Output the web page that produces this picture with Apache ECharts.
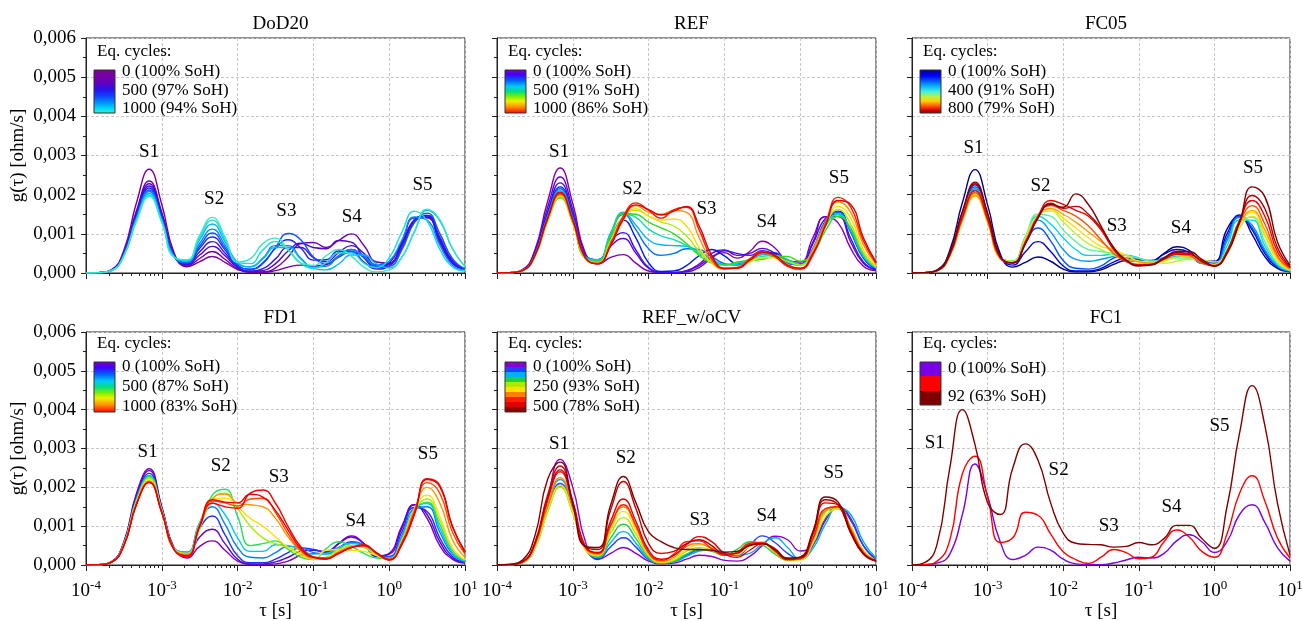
<!DOCTYPE html>
<html><head><meta charset="utf-8">
<script src="https://cdn.jsdelivr.net/npm/echarts@6/dist/echarts.min.js"></script>
<style>html,body{margin:0;padding:0;background:#fff}#c{width:1302px;height:621px}</style>
</head><body><div id="c"></div>
<script>
// relaxation time grid tau [s]
const tau = [1e-4,1.468e-4,2.154e-4,3.162e-4,4.642e-4,6.813e-4,1e-3,1.468e-3,2.154e-3,3.162e-3,4.642e-3,6.813e-3,0.01,0.01468,0.02154,0.03162,0.04642,0.06813,0.1,0.1468,0.2154,0.3162,0.4642,0.6813,1,1.468,2.154,3.162,4.642,6.813,10];
// g(tau) in 1e-3 ohm/s
const dod20 = [
[0,0.01,0.08,0.58,1.8,2.65,1.75,0.49,0.16,0.29,0.42,0.27,0.09,0.02,0.02,0.06,0.15,0.2,0.18,0.21,0.44,0.6,0.43,0.18,0.23,0.71,1.32,1.43,0.84,0.27,0.1],
[0,0.01,0.07,0.52,1.6,2.35,1.55,0.44,0.18,0.37,0.55,0.35,0.11,0.03,0.03,0.13,0.41,0.75,0.78,0.65,0.83,1.0,0.7,0.28,0.25,0.73,1.36,1.47,0.87,0.28,0.1],
[0,0.01,0.07,0.5,1.55,2.28,1.5,0.43,0.21,0.46,0.68,0.44,0.14,0.04,0.06,0.24,0.56,0.76,0.65,0.62,0.83,0.79,0.39,0.13,0.25,0.78,1.41,1.41,0.78,0.24,0.1],
[0,0.01,0.07,0.49,1.51,2.22,1.47,0.42,0.23,0.54,0.8,0.51,0.16,0.05,0.11,0.36,0.65,0.65,0.39,0.29,0.52,0.7,0.5,0.21,0.24,0.73,1.36,1.47,0.87,0.28,0.1],
[0,0.01,0.07,0.48,1.48,2.17,1.43,0.42,0.25,0.63,0.92,0.59,0.19,0.1,0.26,0.63,0.85,0.64,0.33,0.34,0.56,0.55,0.28,0.1,0.18,0.64,1.3,1.46,0.92,0.32,0.1],
[0,0.01,0.06,0.47,1.44,2.12,1.4,0.41,0.26,0.69,1.02,0.65,0.21,0.09,0.24,0.66,1.01,0.85,0.41,0.24,0.4,0.55,0.39,0.16,0.17,0.59,1.29,1.53,1.01,0.37,0.1],
[0,0.01,0.06,0.46,1.41,2.08,1.37,0.4,0.28,0.76,1.12,0.72,0.24,0.16,0.38,0.7,0.7,0.38,0.15,0.17,0.43,0.6,0.43,0.2,0.3,0.84,1.43,1.35,0.71,0.2,0.08],
[0,0.01,0.06,0.45,1.38,2.03,1.34,0.41,0.31,0.85,1.25,0.8,0.27,0.16,0.36,0.65,0.65,0.36,0.12,0.08,0.23,0.46,0.46,0.23,0.13,0.4,1.05,1.6,1.34,0.62,0.16],
[0,0.01,0.06,0.44,1.35,1.98,1.31,0.4,0.33,0.92,1.35,0.86,0.27,0.24,0.59,0.8,0.59,0.25,0.12,0.26,0.51,0.51,0.25,0.14,0.39,1.04,1.58,1.33,0.61,0.16,0.05],
[0,0.01,0.06,0.43,1.33,1.95,1.29,0.39,0.34,0.97,1.42,0.92,0.28,0.36,0.75,0.89,0.59,0.25,0.19,0.44,0.6,0.43,0.15,0.03,0.08,0.4,1.07,1.63,1.37,0.63,0.16]
];
const ref = [
[0,0.01,0.08,0.59,1.82,2.68,1.77,0.5,0.23,0.4,0.47,0.25,0.05,0.01,0.01,0.05,0.19,0.42,0.52,0.38,0.55,0.81,0.64,0.32,0.28,0.9,1.44,1.28,0.63,0.17,0.06],
[0,0.01,0.07,0.54,1.67,2.45,1.62,0.48,0.3,0.69,0.88,0.5,0.12,0.02,0.01,0.06,0.23,0.5,0.59,0.45,0.5,0.63,0.5,0.24,0.22,0.79,1.44,1.44,0.79,0.25,0.08],
[0,0.01,0.07,0.51,1.56,2.3,1.52,0.45,0.34,0.81,1.03,0.58,0.14,0.02,0.01,0.03,0.14,0.38,0.57,0.5,0.45,0.57,0.46,0.22,0.23,0.74,1.39,1.5,0.88,0.28,0.08],
[0,0.01,0.07,0.48,1.5,2.2,1.45,0.43,0.33,0.89,1.35,0.89,0.26,0.04,0.05,0.19,0.44,0.6,0.44,0.25,0.29,0.51,0.51,0.25,0.22,0.61,1.33,1.58,1.04,0.38,0.1],
[0,0.01,0.06,0.47,1.46,2.15,1.42,0.42,0.34,1.0,1.5,1.1,0.62,0.45,0.5,0.62,0.6,0.42,0.24,0.2,0.32,0.48,0.45,0.25,0.2,0.62,1.3,1.55,1.05,0.4,0.12],
[0,0.01,0.06,0.46,1.43,2.1,1.39,0.41,0.34,1.03,1.55,1.22,0.85,0.72,0.7,0.68,0.55,0.35,0.22,0.22,0.35,0.47,0.45,0.28,0.2,0.6,1.25,1.5,1.08,0.42,0.13],
[0,0.01,0.06,0.44,1.36,2.0,1.32,0.39,0.32,0.98,1.52,1.42,1.12,0.95,0.85,0.7,0.5,0.3,0.2,0.25,0.35,0.42,0.45,0.35,0.22,0.55,1.2,1.5,1.12,0.45,0.14],
[0,0.01,0.06,0.42,1.31,1.92,1.27,0.37,0.3,0.95,1.52,1.5,1.3,1.15,1.0,0.75,0.45,0.25,0.2,0.28,0.32,0.35,0.42,0.42,0.3,0.5,1.08,1.45,1.15,0.5,0.15],
[0,0.01,0.06,0.43,1.33,1.95,1.29,0.37,0.27,0.85,1.45,1.6,1.45,1.3,1.2,0.95,0.55,0.25,0.12,0.15,0.3,0.38,0.4,0.3,0.2,0.58,1.25,1.62,1.25,0.52,0.15],
[0,0.01,0.06,0.43,1.34,1.97,1.3,0.37,0.25,0.75,1.4,1.64,1.45,1.35,1.38,1.2,0.65,0.25,0.1,0.12,0.28,0.4,0.38,0.22,0.12,0.55,1.25,1.7,1.4,0.6,0.18],
[0,0.01,0.06,0.44,1.36,2.0,1.32,0.38,0.25,0.72,1.35,1.72,1.55,1.5,1.6,1.55,0.9,0.3,0.1,0.14,0.35,0.5,0.42,0.18,0.1,0.6,1.3,1.82,1.55,0.72,0.22],
[0,0.01,0.06,0.45,1.38,2.03,1.34,0.38,0.24,0.75,1.45,1.79,1.6,1.4,1.62,1.68,1.1,0.37,0.11,0.13,0.36,0.55,0.42,0.17,0.1,0.45,1.25,1.93,1.68,0.82,0.25],
[0,0.01,0.06,0.45,1.4,2.06,1.36,0.39,0.24,0.7,1.38,1.74,1.62,1.48,1.58,1.7,1.2,0.45,0.12,0.12,0.32,0.52,0.45,0.2,0.12,0.5,1.2,1.85,1.75,0.9,0.28]
];
const fc05 = [
[0,0.01,0.08,0.58,1.8,2.64,1.74,0.49,0.15,0.27,0.41,0.3,0.1,0.03,0.03,0.08,0.22,0.32,0.3,0.3,0.5,0.67,0.58,0.3,0.3,1.12,1.45,0.98,0.42,0.12,0.04],
[0,0.01,0.07,0.5,1.53,2.25,1.49,0.42,0.2,0.54,0.8,0.55,0.18,0.05,0.05,0.12,0.28,0.38,0.33,0.32,0.48,0.6,0.52,0.28,0.28,1.0,1.48,1.1,0.5,0.15,0.05],
[0,0.01,0.07,0.48,1.5,2.2,1.45,0.42,0.27,0.78,1.15,0.82,0.32,0.12,0.1,0.18,0.38,0.45,0.35,0.28,0.4,0.52,0.45,0.25,0.25,0.9,1.45,1.15,0.55,0.17,0.05],
[0,0.01,0.06,0.47,1.46,2.15,1.42,0.41,0.3,0.9,1.35,1.05,0.6,0.35,0.3,0.35,0.42,0.45,0.38,0.3,0.38,0.48,0.44,0.25,0.22,0.82,1.42,1.22,0.6,0.18,0.05],
[0,0.01,0.06,0.47,1.44,2.12,1.4,0.4,0.3,0.92,1.45,1.25,0.9,0.6,0.45,0.45,0.48,0.45,0.38,0.3,0.35,0.42,0.4,0.25,0.2,0.7,1.35,1.35,0.7,0.22,0.06],
[0,0.01,0.06,0.45,1.39,2.05,1.35,0.39,0.3,0.92,1.5,1.45,1.1,0.8,0.6,0.55,0.5,0.45,0.38,0.3,0.32,0.38,0.38,0.28,0.22,0.6,1.3,1.42,0.8,0.25,0.07],
[0,0.01,0.06,0.44,1.36,2.0,1.32,0.38,0.3,0.9,1.48,1.58,1.3,1.0,0.75,0.6,0.45,0.35,0.3,0.28,0.25,0.3,0.35,0.34,0.28,0.5,1.15,1.45,0.95,0.32,0.08],
[0,0.01,0.06,0.43,1.33,1.96,1.29,0.37,0.28,0.85,1.45,1.62,1.4,1.15,0.9,0.68,0.6,0.45,0.3,0.25,0.3,0.4,0.42,0.3,0.2,0.55,1.25,1.55,1.0,0.35,0.09],
[0,0.01,0.06,0.44,1.35,1.98,1.31,0.37,0.27,0.82,1.45,1.65,1.5,1.3,1.05,0.8,0.55,0.38,0.28,0.25,0.35,0.48,0.45,0.28,0.2,0.55,1.25,1.6,1.1,0.4,0.1],
[0,0.01,0.06,0.45,1.39,2.05,1.35,0.38,0.26,0.8,1.45,1.72,1.6,1.45,1.2,0.85,0.5,0.3,0.22,0.22,0.38,0.5,0.45,0.25,0.18,0.55,1.3,1.72,1.25,0.45,0.12],
[0,0.01,0.06,0.46,1.43,2.1,1.39,0.39,0.26,0.78,1.45,1.85,1.75,1.6,1.45,1.1,0.6,0.3,0.2,0.22,0.35,0.48,0.48,0.3,0.18,0.55,1.35,1.85,1.45,0.55,0.14],
[0,0.01,0.07,0.5,1.55,2.28,1.5,0.42,0.26,0.75,1.4,1.78,1.65,1.7,1.5,1.15,0.65,0.32,0.2,0.22,0.38,0.52,0.5,0.3,0.18,0.5,1.3,1.98,1.65,0.65,0.16],
[0,0.01,0.07,0.51,1.58,2.32,1.53,0.42,0.26,0.75,1.42,1.75,1.68,2.02,1.75,1.2,0.65,0.33,0.18,0.2,0.38,0.55,0.55,0.35,0.18,0.5,1.3,2.2,1.95,0.8,0.2]
];
const fd1 = [
[0,0.01,0.08,0.6,1.85,2.48,1.5,0.42,0.18,0.48,0.62,0.38,0.1,0.02,0.01,0.03,0.1,0.25,0.3,0.3,0.55,0.75,0.55,0.22,0.3,1.0,1.55,1.2,0.5,0.15,0.05],
[0,0.01,0.08,0.58,1.8,2.43,1.48,0.42,0.25,0.72,0.92,0.55,0.15,0.03,0.03,0.08,0.2,0.35,0.38,0.35,0.55,0.72,0.55,0.24,0.28,0.95,1.55,1.3,0.6,0.18,0.06],
[0,0.01,0.07,0.56,1.75,2.36,1.45,0.42,0.3,0.95,1.26,0.78,0.24,0.06,0.06,0.15,0.32,0.44,0.4,0.33,0.45,0.6,0.5,0.22,0.22,0.85,1.48,1.38,0.7,0.22,0.07],
[0,0.01,0.07,0.55,1.7,2.3,1.43,0.42,0.33,1.08,1.5,1.05,0.45,0.2,0.18,0.32,0.48,0.45,0.32,0.28,0.42,0.58,0.52,0.25,0.2,0.75,1.45,1.5,0.85,0.28,0.08],
[0,0.01,0.07,0.54,1.68,2.28,1.42,0.42,0.33,1.1,1.6,1.3,0.7,0.35,0.35,0.52,0.5,0.38,0.28,0.3,0.45,0.55,0.48,0.25,0.18,0.7,1.45,1.58,0.95,0.32,0.1],
[0,0.01,0.07,0.54,1.68,2.28,1.42,0.4,0.25,0.95,1.8,1.95,1.25,0.5,0.55,0.62,0.4,0.2,0.14,0.42,0.6,0.48,0.3,0.18,0.16,0.65,1.4,1.62,1.05,0.38,0.12],
[0,0.01,0.07,0.53,1.65,2.23,1.4,0.4,0.26,0.95,1.7,1.85,1.45,1.0,0.7,0.55,0.45,0.3,0.15,0.2,0.4,0.5,0.45,0.25,0.15,0.62,1.4,1.7,1.15,0.42,0.13],
[0,0.01,0.07,0.52,1.62,2.18,1.38,0.4,0.3,1.05,1.7,1.72,1.5,1.2,1.0,0.72,0.45,0.25,0.15,0.38,0.4,0.38,0.35,0.25,0.15,0.62,1.45,1.8,1.25,0.45,0.14],
[0,0.01,0.07,0.51,1.6,2.16,1.37,0.39,0.28,1.0,1.7,1.83,1.6,1.55,1.5,1.2,0.72,0.35,0.18,0.18,0.35,0.48,0.5,0.3,0.14,0.6,1.42,2.0,1.6,0.65,0.2],
[0,0.01,0.07,0.51,1.58,2.14,1.36,0.39,0.25,1.0,1.65,1.6,1.52,1.7,1.72,1.35,0.8,0.38,0.2,0.18,0.32,0.45,0.5,0.3,0.13,0.55,1.38,2.12,1.85,0.85,0.28],
[0,0.01,0.07,0.5,1.57,2.13,1.35,0.38,0.21,0.99,1.59,1.5,1.46,1.85,1.93,1.59,0.99,0.47,0.21,0.15,0.3,0.45,0.52,0.3,0.13,0.56,1.33,2.2,2.02,0.99,0.32],
[0,0.01,0.07,0.5,1.56,2.12,1.35,0.38,0.24,1.02,1.68,1.62,1.6,1.82,1.75,1.4,0.9,0.42,0.2,0.16,0.3,0.45,0.5,0.32,0.14,0.52,1.3,2.22,2.05,1.0,0.35]
];
const refWoCV = [
[0,0.01,0.06,0.5,1.7,2.72,2.0,0.6,0.14,0.3,0.45,0.3,0.1,0.03,0.05,0.15,0.25,0.22,0.12,0.1,0.22,0.5,0.74,0.65,0.36,0.52,1.15,1.5,1.2,0.5,0.14],
[0,0.01,0.06,0.45,1.43,2.1,1.42,0.42,0.16,0.47,0.7,0.46,0.14,0.06,0.1,0.25,0.38,0.38,0.28,0.25,0.5,0.75,0.58,0.3,0.15,0.5,1.2,1.5,1.15,0.5,0.15],
[0,0.01,0.06,0.47,1.5,2.2,1.48,0.43,0.19,0.58,0.86,0.56,0.16,0.05,0.08,0.22,0.36,0.4,0.33,0.25,0.3,0.55,0.7,0.45,0.15,0.42,1.05,1.48,1.3,0.6,0.18],
[0,0.01,0.06,0.44,1.37,2.02,1.35,0.4,0.21,0.7,1.05,0.68,0.2,0.05,0.1,0.28,0.4,0.35,0.25,0.4,0.6,0.52,0.28,0.12,0.14,0.65,1.4,1.45,0.85,0.3,0.1],
[0,0.01,0.06,0.44,1.36,2.0,1.33,0.39,0.24,0.82,1.22,0.8,0.24,0.06,0.12,0.35,0.45,0.38,0.25,0.33,0.55,0.55,0.32,0.12,0.15,0.62,1.35,1.48,0.95,0.35,0.11],
[0,0.01,0.06,0.45,1.39,2.05,1.37,0.4,0.26,0.92,1.38,0.9,0.28,0.08,0.15,0.4,0.52,0.45,0.28,0.28,0.48,0.55,0.38,0.15,0.13,0.55,1.25,1.45,1.0,0.38,0.12],
[0,0.01,0.07,0.5,1.53,2.25,1.5,0.43,0.28,1.0,1.5,0.98,0.3,0.1,0.2,0.48,0.55,0.42,0.25,0.32,0.55,0.58,0.35,0.13,0.15,0.65,1.4,1.5,0.95,0.35,0.12],
[0,0.01,0.07,0.53,1.65,2.4,1.6,0.46,0.3,1.03,1.55,1.02,0.32,0.12,0.28,0.6,0.62,0.42,0.25,0.33,0.56,0.58,0.36,0.14,0.16,0.68,1.45,1.5,0.9,0.32,0.11],
[0,0.01,0.08,0.58,1.8,2.55,1.65,0.47,0.32,1.13,1.7,1.12,0.38,0.15,0.25,0.52,0.73,0.6,0.3,0.2,0.38,0.55,0.42,0.16,0.18,0.78,1.6,1.55,0.85,0.28,0.1],
[0,0.01,0.08,0.56,1.72,2.45,1.6,0.47,0.4,1.42,2.15,1.45,0.55,0.3,0.35,0.55,0.65,0.5,0.28,0.3,0.52,0.55,0.38,0.15,0.2,0.85,1.68,1.55,0.82,0.28,0.1],
[0,0.02,0.12,0.75,2.2,2.65,1.55,0.48,0.45,1.55,2.28,1.6,0.85,0.6,0.45,0.4,0.4,0.38,0.33,0.35,0.5,0.55,0.4,0.18,0.2,0.85,1.75,1.62,0.85,0.3,0.12]
];
const fc1 = [
[0,0.01,0.05,0.28,1.3,2.6,1.78,0.6,0.14,0.25,0.46,0.38,0.15,0.03,0.01,0.01,0.05,0.13,0.2,0.18,0.3,0.62,0.78,0.6,0.32,0.6,1.3,1.55,1.1,0.45,0.1],
[0,0.01,0.1,0.64,2.35,2.8,1.75,0.58,0.7,1.36,1.28,0.8,0.34,0.14,0.04,0.2,0.4,0.32,0.16,0.2,0.6,0.9,0.72,0.35,0.2,0.8,1.85,2.3,1.65,0.7,0.18],
[0,0.06,0.55,2.5,4.0,3.1,1.6,1.3,2.5,3.12,2.7,1.6,0.82,0.56,0.53,0.52,0.46,0.48,0.58,0.52,0.68,1.02,1.02,0.68,0.43,1.5,3.4,4.62,3.6,1.6,0.26]
];
// peak annotations: [tau, g, label]
const dod20Peaks = [[6.8e-4,3.09,'S1'],[4.9e-3,1.89,'S2'],[0.044,1.58,'S3'],[0.32,1.43,'S4'],[2.75,2.24,'S5']];
const refPeaks = [[6.6e-4,3.09,'S1'],[6.1e-3,2.14,'S2'],[0.058,1.63,'S3'],[0.36,1.30,'S4'],[3.24,2.43,'S5']];
const fc05Peaks = [[6.5e-4,3.2,'S1'],[5.0e-3,2.23,'S2'],[0.051,1.2,'S3'],[0.36,1.15,'S4'],[3.24,2.69,'S5']];
const fd1Peaks = [[6.5e-4,2.92,'S1'],[6.0e-3,2.56,'S2'],[0.035,2.26,'S3'],[0.36,1.12,'S4'],[3.24,2.85,'S5']];
const refWoCVPeaks = [[6.6e-4,3.12,'S1'],[5.0e-3,2.75,'S2'],[0.047,1.16,'S3'],[0.36,1.26,'S4'],[2.75,2.38,'S5']];
const fc1Peaks = [[2.0e-4,3.13,'S1'],[8.7e-3,2.45,'S2'],[0.04,1.0,'S3'],[0.27,1.49,'S4'],[1.17,3.58,'S5']];
// texts
const titles = ['DoD20','REF','FC05','FD1','REF_w/oCV','FC1'];
const legendTexts = [
 ['0 (100% SoH)','500 (97% SoH)','1000 (94% SoH)'],
 ['0 (100% SoH)','500 (91% SoH)','1000 (86% SoH)'],
 ['0 (100% SoH)','400 (91% SoH)','800 (79% SoH)'],
 ['0 (100% SoH)','500 (87% SoH)','1000 (83% SoH)'],
 ['0 (100% SoH)','250 (93% SoH)','500 (78% SoH)'],
 ['0 (100% SoH)','92 (63% SoH)']
];

// styles
const colDoD20 = ['#7B0099','#6C00B4','#5A00CC','#3A10E8','#2020FF','#1050FF','#0088FF','#00B8F8','#10DDE8','#38E8C0'];
const colRef = ['#8000B0','#6A00D0','#3A10F0','#0018FF','#0070FF','#00B8FF','#00E0B0','#30DC20','#B0EC00','#F4E000','#FF8C00','#FF1A00','#E00000'];
const colFc05 = ['#00008B','#0000D8','#0050FF','#0098FF','#00D8E8','#60F0A0','#C0F030','#FFE000','#FFA000','#FF5000','#F00000','#B80000','#800000'];
const colFd1 = ['#8000B0','#6000E0','#2030FF','#0080FF','#00C8F0','#20E060','#A8F000','#FFE000','#FF9800','#FF4800','#FF0000','#E80000'];
const colWoCV = ['#8A00D0','#2040FF','#00B0F0','#20D040','#B0E800','#FFE000','#FF8000','#FF2000','#E00000','#C00000','#800000'];
const colFc1 = ['#7A00E6','#FF0000','#800000'];

const gradDoD20 = [[0,'#7d0096'],[0.28,'#6a00b8'],[0.45,'#2a10e8'],[0.6,'#1040ff'],[0.75,'#0090ff'],[0.9,'#00e0f0'],[1,'#40f0c8']];
const gradRainbow = [[0,'#8000c0'],[0.12,'#4000ff'],[0.25,'#0060ff'],[0.38,'#00c8ff'],[0.5,'#00e080'],[0.62,'#80f000'],[0.72,'#f0f000'],[0.85,'#ff9000'],[1,'#ff0000']];
const gradJet = [[0,'#000090'],[0.15,'#0000ff'],[0.35,'#00a0ff'],[0.5,'#40f0e0'],[0.62,'#c0f040'],[0.72,'#ffd000'],[0.85,'#ff4000'],[0.93,'#d00000'],[1,'#800000']];
function stepped(cols){const s=[];cols.forEach((c,i)=>{s.push([i/cols.length,c]);s.push([(i+1)/cols.length,c]);});return s;}

const FONT = '"Liberation Serif","Times New Roman",serif';
const INK = '#000';
const panels = [
 {curves:dod20, colors:colDoD20, peaks:dod20Peaks, grad:gradDoD20},
 {curves:ref, colors:colRef, peaks:refPeaks, grad:gradRainbow},
 {curves:fc05, colors:colFc05, peaks:fc05Peaks, grad:gradJet},
 {curves:fd1, colors:colFd1, peaks:fd1Peaks, grad:gradRainbow},
 {curves:refWoCV, colors:colWoCV, peaks:refWoCVPeaks, grad:stepped(['#8a00d0','#2040ff','#00b0f0','#20d040','#b0e800','#ffe000','#ff8000','#ff2000','#e00000','#900000'])},
 {curves:fc1, colors:colFc1, peaks:fc1Peaks, grad:stepped(['#7a00e6','#ff0000','#800000'])}
];
const lefts = [86,497,912];
const widths = [379,379,378];
const tops = [38,332];
const heights = [235,233];

const grids=[], xAxes=[], yAxes=[], series=[], titleArr=[], graphics=[];
panels.forEach((p,i)=>{
  const row = Math.floor(i/3), col = i%3;
  const L = lefts[col], T = tops[row], W = widths[col], H = heights[row];
  grids.push({left:L, top:T, width:W, height:H, show:true, borderColor:'#222', borderWidth:1,
    backgroundColor:'transparent', containLabel:false, outerBoundsMode:'none'});
  titleArr.push({text:titles[i], left:L+W/2, top:T-28, textAlign:'center', textStyle:{fontFamily:FONT, fontSize:19, fontWeight:'normal', color:INK}});
  xAxes.push({
    type:'log', logBase:10, min:1e-4, max:10, splitNumber:5, gridIndex:i,
    axisLine:{show:true, onZero:false, lineStyle:{color:'#222', width:1}},
    axisTick:{show:true, inside:false, length:6, lineStyle:{color:'#222'}},
    minorTick:{show:true, splitNumber:9, length:3, lineStyle:{color:'#222'}},
    splitLine:{show:true, lineStyle:{color:'#c8c8c8', type:[3,2], width:1}},
    axisLabel:{show:row===1, showMinLabel:true, showMaxLabel:true, margin:14,
      formatter:v=>'{b|10}{s|'+Math.round(Math.log10(v))+'}',
      rich:{b:{fontFamily:FONT, fontSize:19, color:INK, lineHeight:22, verticalAlign:'bottom'},
            s:{fontFamily:FONT, fontSize:13, color:INK, lineHeight:12, verticalAlign:'top'}}},
    name: row===1 ? 'τ [s]' : '', nameLocation:'middle', nameGap:37,
    nameTextStyle:{fontFamily:FONT, fontSize:19, color:INK}
  });
  yAxes.push({
    type:'value', min:0, max:6, interval:1, gridIndex:i,
    axisLine:{show:true, lineStyle:{color:'#222', width:1}},
    axisTick:{show:true, inside:false, length:5, lineStyle:{color:'#222'}},
    minorTick:{show:true, splitNumber:2, length:3, lineStyle:{color:'#222'}},
    splitLine:{show:true, lineStyle:{color:'#c8c8c8', type:[3,2], width:1}},
    axisLabel:{show:col===0, margin:10, fontFamily:FONT, fontSize:19, color:INK,
      formatter:v=>(v/1000).toFixed(3).replace('.',',')},
    name: col===0 ? 'g(τ) [ohm/s]' : '', nameLocation:'middle', nameGap:58, nameRotate:90,
    nameTextStyle:{fontFamily:FONT, fontSize:19, color:INK}
  });
  p.curves.forEach((c,j)=>{
    series.push({type:'line', xAxisIndex:i, yAxisIndex:i, smooth:0.5, symbol:'none', showSymbol:false,
      silent:true, clip:true, z:2,
      lineStyle:{width:1.4, color:p.colors[j]}, itemStyle:{color:p.colors[j]},
      data:c.map((v,k)=>[tau[k], v])});
  });
  series.push({type:'scatter', xAxisIndex:i, yAxisIndex:i, symbolSize:0, silent:true, z:5,
    itemStyle:{opacity:1, color:INK},
    data:p.peaks.map(q=>[q[0],q[1],q[2]]),
    label:{show:true, position:'inside', formatter:q=>q.value[2], fontFamily:FONT, fontSize:19, color:INK, opacity:1, textBorderWidth:0}});
  // legend block
  const lt = legendTexts[i];
  graphics.push({type:'text', left:L+11, top:T+(row===0?5:3), z:10,
     style:{text:'Eq. cycles:', font:'17px '+FONT, fill:INK}});
  const barY = T + (row===0?32:30);
  const barH = (i===5) ? 43 : (row===0 ? 43 : 50);
  graphics.push({type:'rect', z:10, shape:{x:L+8, y:barY, width:21, height:barH},
     style:{fill:new echarts.graphic.LinearGradient(0,0,0,1,p.grad.map(s=>({offset:s[0], color:s[1]}))), stroke:'#333', lineWidth:1}});
  let centers;
  if (i===5) centers = [T+38, T+66];
  else if (row===0) centers = [T+35, T+54, T+72];
  else centers = [T+36, T+56, T+76];
  lt.forEach((t,m)=>{
    graphics.push({type:'text', left:L+36, top:centers[m]-10, z:10,
      style:{text:t, font:'17px '+FONT, fill:INK}});
  });
});

const chart = echarts.init(document.getElementById('c'), null, {renderer:'canvas'});
chart.setOption({
  backgroundColor:'#fff', animation:false,
  title:titleArr, grid:grids, xAxis:xAxes, yAxis:yAxes, series:series, graphic:graphics
});
</script></body></html>
